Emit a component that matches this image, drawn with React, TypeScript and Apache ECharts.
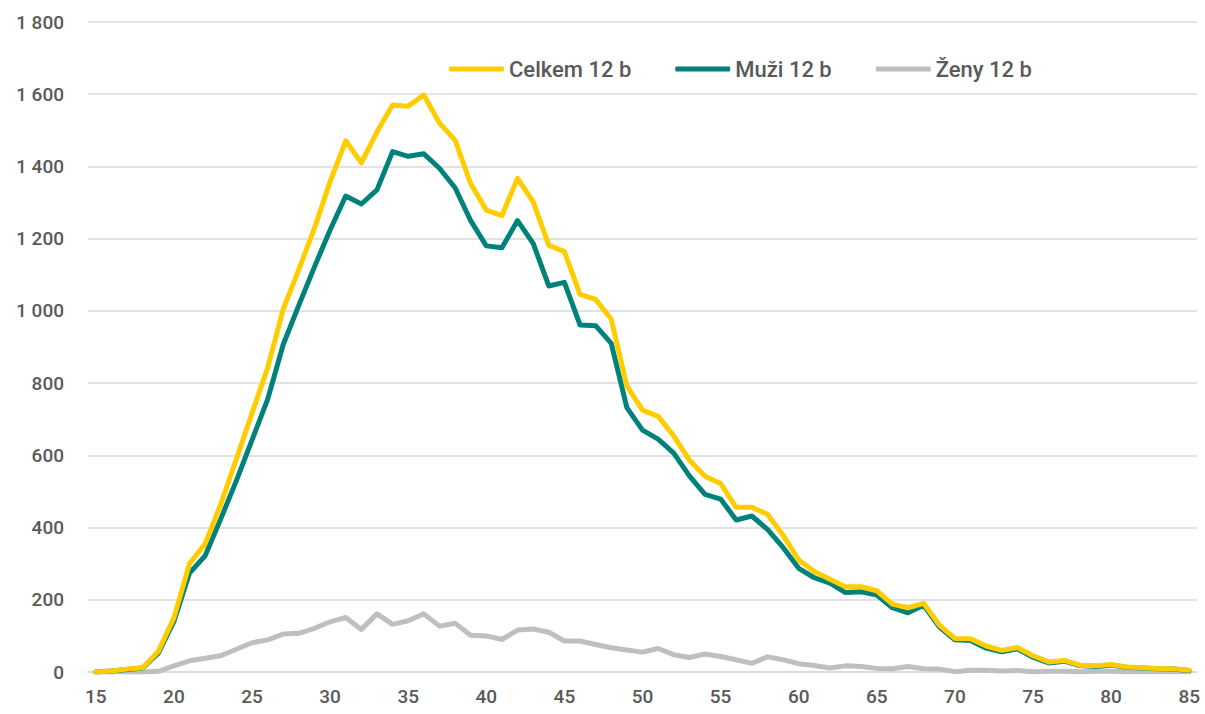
import React, { useEffect, useRef } from "react";
import * as echarts from "echarts";

const ages: string[] = [];
for (let a = 15; a <= 85; a++) ages.push(String(a));

const celkem = [
  0, 3, 8, 12, 57, 150, 300, 355, 465, 590,
  717, 842, 1005, 1115, 1229, 1358, 1471, 1410, 1496, 1570,
  1567, 1598, 1520, 1473, 1352, 1279, 1264, 1367, 1302, 1182,
  1164, 1046, 1032, 977, 792, 725, 708, 654, 587, 542,
  522, 456, 456, 437, 379, 310, 278, 257, 236, 236,
  225, 188, 178, 190, 130, 93, 92, 72, 60, 68,
  45, 28, 32, 19, 17, 21, 14, 12, 10, 9,
  5,
];

const muzi = [
  0, 3, 7, 11, 52, 140, 274, 322, 424, 530,
  642, 755, 907, 1016, 1122, 1224, 1318, 1296, 1335, 1441,
  1428, 1435, 1395, 1341, 1250, 1180, 1175, 1250, 1187, 1069,
  1079, 961, 959, 910, 732, 670, 645, 606, 543, 492,
  479, 421, 432, 395, 345, 287, 261, 246, 220, 222,
  213, 178, 164, 185, 125, 89, 87, 66, 56, 64,
  41, 25, 30, 18, 15, 19, 13, 11, 9, 8,
  4,
];

const zeny = [
  0, 0, 0, 0, 2, 17, 31, 38, 45, 63,
  81, 89, 105, 107, 121, 139, 151, 118, 161, 132,
  142, 161, 127, 135, 102, 100, 90, 116, 119, 110,
  86, 86, 76, 67, 61, 55, 65, 48, 40, 50,
  43, 34, 24, 42, 34, 23, 18, 11, 17, 15,
  10, 9, 15, 9, 8, 1, 5, 5, 3, 4,
  1, 2, 2, 1, 2, 2, 1, 1, 1, 1,
  1,
];

const seriesNames = ["Celkem 12 b", "Muži 12 b", "Ženy 12 b"];
const colors = ["#FFCC00", "#00827A", "#BFBFBF"];

export default function App() {
  const ref = useRef<HTMLDivElement>(null);
  useEffect(() => {
    document.body.style.margin = "0";
    const chart = echarts.init(ref.current!, null, { renderer: "svg" });
    const font = "Roboto, sans-serif";
    const mk = (name: string, data: number[], color: string) => ({
      name,
      type: "line",
      data,
      symbol: "none",
      lineStyle: { color, width: 5, cap: "round", join: "round" },
      itemStyle: { color },
    });
    chart.setOption({
      animation: false,
      color: colors,
      grid: { left: 88, right: 8, top: 22, bottom: 42 },
      legend: {
        top: 53,
        left: 444,
        itemWidth: 55,
        itemHeight: 5,
        itemGap: 44,
        icon: "roundRect",
        textStyle: {
          fontFamily: font,
          fontSize: 22,
          fontWeight: 500,
          color: "#595959",
        },
        data: seriesNames,
      },
      xAxis: {
        type: "category",
        data: ages,
        boundaryGap: true,
        axisLine: { show: true, lineStyle: { color: "#D9D9D9", width: 1.5 } },
        axisTick: { show: false },
        axisLabel: {
          interval: 4,
          margin: 15,
          fontFamily: font,
          fontSize: 19,
          fontWeight: 500,
          color: "#595959",
        },
      },
      yAxis: {
        type: "value",
        min: 0,
        max: 1800,
        interval: 200,
        axisLine: { show: false },
        axisTick: { show: false },
        splitLine: { lineStyle: { color: "#D9D9D9", width: 1.5 } },
        axisLabel: {
          margin: 24,
          fontFamily: font,
          fontSize: 19,
          fontWeight: 500,
          color: "#595959",
          formatter: (v: number) =>
            String(v).replace(/\B(?=(\d{3})+(?!\d))/g, " "),
        },
      },
      series: [
        mk(seriesNames[2], zeny, colors[2]),
        mk(seriesNames[1], muzi, colors[1]),
        mk(seriesNames[0], celkem, colors[0]),
      ],
    });
    return () => chart.dispose();
  }, []);
  return (
    <div
      ref={ref}
      style={{ position: "absolute", left: 0, top: 0, width: 1205, height: 714 }}
    />
  );
}
